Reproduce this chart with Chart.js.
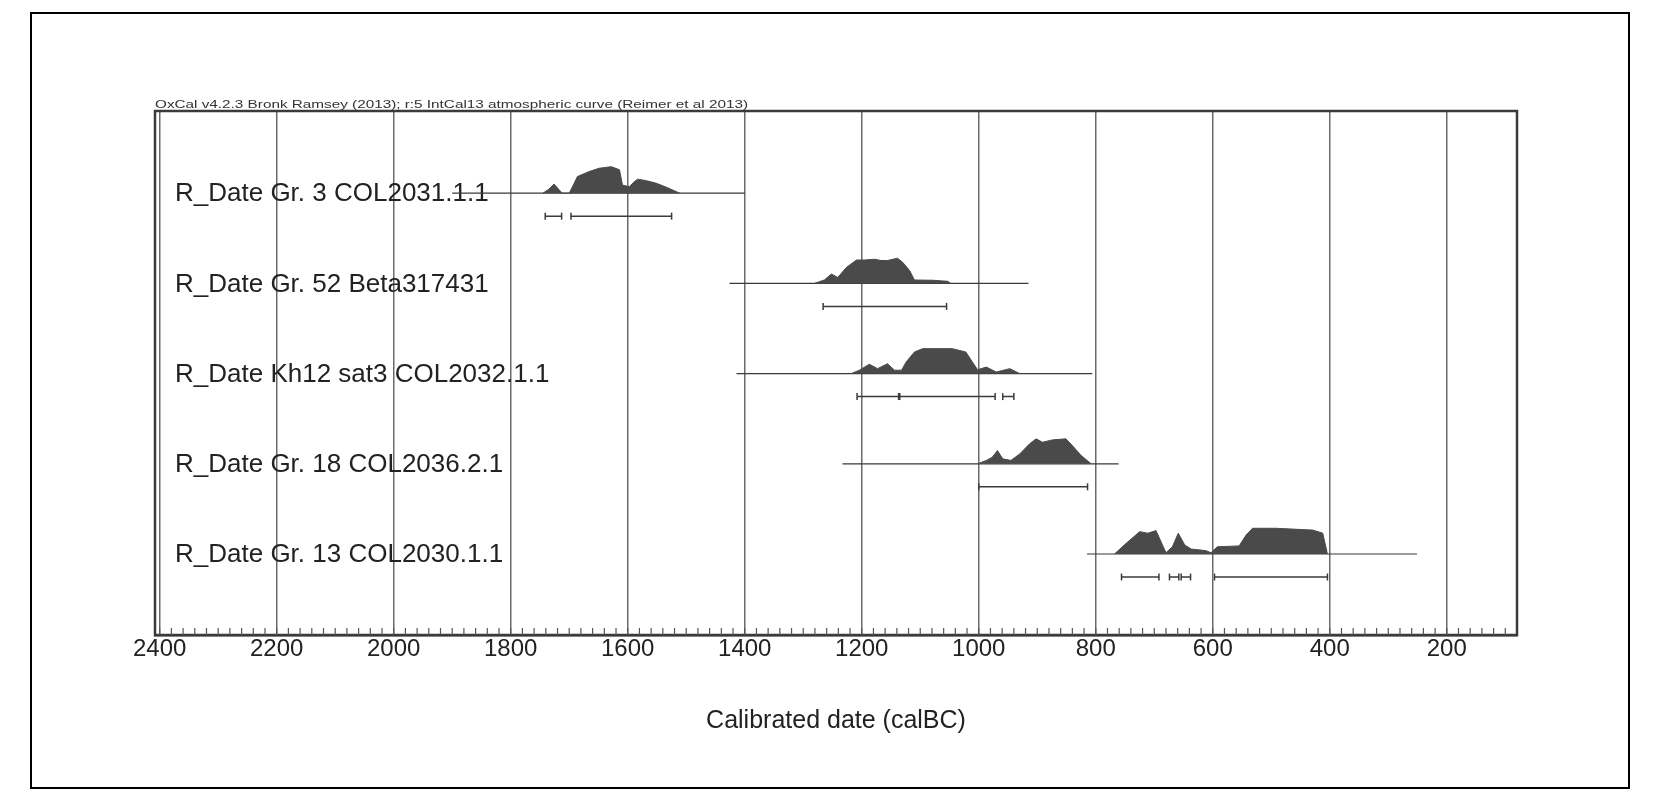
<!DOCTYPE html>
<html>
<head>
<meta charset="utf-8">
<script src="https://cdn.jsdelivr.net/npm/chart.js@4.4.1/dist/chart.umd.min.js"></script>
<style>
  html, body { margin: 0; padding: 0; background: #fff; }
  #wrap { width: 1659px; height: 799px; }
</style>
</head>
<body>
<div id="wrap"><canvas id="chart" width="1659" height="799"></canvas></div>
<script>
// sample names, top to bottom
const sampleLabels = [
  "R_Date Gr. 3 COL2031.1.1",
  "R_Date Gr. 52 Beta317431",
  "R_Date Kh12 sat3 COL2032.1.1",
  "R_Date Gr. 18 COL2036.2.1",
  "R_Date Gr. 13 COL2030.1.1"
];
const rowLevels = [5, 4, 3, 2, 1];

// calibrated probability, [year calBC, relative density]
const dist1 = [[1745,0],[1735,0.15],[1726,0.35],[1718,0.15],[1712,0],[1700,0],[1693,0.31],[1686,0.64],[1666,0.83],[1649,0.96],[1628,1.02],[1614,0.9],[1609,0.31],[1597,0.25],[1590,0.42],[1583,0.54],[1568,0.48],[1551,0.38],[1534,0.23],[1511,0]];
const dist2 = [[1281,0],[1264,0.13],[1252,0.36],[1241,0.23],[1226,0.62],[1209,0.9],[1195,0.9],[1178,0.93],[1167,0.88],[1156,0.88],[1139,0.97],[1130,0.81],[1118,0.49],[1110,0.13],[1079,0.12],[1053,0.08],[1048,0]];
const dist3 = [[1218,0],[1204,0.13],[1187,0.36],[1173,0.19],[1156,0.38],[1144,0.13],[1132,0.13],[1124,0.45],[1110,0.83],[1096,0.96],[1045,0.96],[1022,0.83],[1011,0.45],[1002,0.15],[987,0.25],[970,0.06],[947,0.19],[930,0]];
const dist4 = [[1002,0],[987,0.13],[977,0.25],[968,0.51],[959,0.19],[945,0.13],[930,0.38],[913,0.77],[902,0.96],[891,0.83],[874,0.92],[851,0.96],[840,0.7],[825,0.32],[808,0]];
const dist5 = [[768,0],[748,0.41],[725,0.86],[711,0.8],[697,0.9],[686,0.35],[680,0.05],[669,0.28],[659,0.8],[648,0.35],[637,0.19],[612,0.13],[603,0.05],[592,0.28],[555,0.31],[543,0.73],[532,0.99],[492,0.99],[429,0.92],[412,0.8],[404,0]];
const distributions = [dist1, dist2, dist3, dist4, dist5];

// plotted span of each date
const spans = [[1900,1400],[1426,915],[1414,806],[1233,761],[815,251]];

// 95.4% ranges
const ranges = [
  [[1741,1713],[1697,1525]],
  [[1266,1055]],
  [[1208,1137],[1135,972],[959,940]],
  [[1000,814]],
  [[756,692],[674,658],[654,638],[597,404]]
];

const xTicks = [2400, 2200, 2000, 1800, 1600, 1400, 1200, 1000, 800, 600, 400, 200];
const headerText = "OxCal v4.2.3 Bronk Ramsey (2013); r:5 IntCal13 atmospheric curve (Reimer et al 2013)";

const FONT = "'Liberation Sans', Arial, sans-serif";
const densityScale = 0.288;  // height of a density of 1, in row units
const rangeOffset = 0.255;   // ranges sit below the baseline

const datasets = [];
rowLevels.forEach((row, i) => {
  datasets.push({
    data: distributions[i].map(([yr, p]) => ({ x: yr, y: row + p * densityScale })),
    borderColor: "#4a4a4a",
    backgroundColor: "#4a4a4a",
    borderWidth: 1,
    pointRadius: 0,
    fill: { value: row },
    order: 1
  });
  datasets.push({
    data: spans[i].map(yr => ({ x: yr, y: row })),
    borderColor: "#3a3a3a",
    borderWidth: 1.2,
    pointRadius: 0,
    fill: false,
    order: 2
  });
  const pts = [];
  ranges[i].forEach(([a, b], k) => {
    if (k > 0) pts.push({ x: (a + ranges[i][k - 1][1]) / 2, y: null });
    pts.push({ x: a, y: row - rangeOffset }, { x: b, y: row - rangeOffset });
  });
  datasets.push({
    data: pts,
    borderColor: "#3a3a3a",
    borderWidth: 1.5,
    pointStyle: "line",
    rotation: 90,
    pointRadius: 3.5,
    pointBorderWidth: 1.5,
    pointBorderColor: "#3a3a3a",
    spanGaps: false,
    fill: false,
    order: 2
  });
});

// frame, header, labels and minor ticks
const decorPlugin = {
  id: "decor",
  beforeDatasetsDraw(chart) {
    const { ctx, scales: { y } } = chart;
    ctx.save();
    ctx.fillStyle = "#222";
    ctx.font = `26px ${FONT}`;
    ctx.textBaseline = "middle";
    ctx.textAlign = "left";
    rowLevels.forEach((row, i) => {
      ctx.fillText(sampleLabels[i], 175, y.getPixelForValue(row) + 1);
    });
    ctx.restore();
  },
  afterDraw(chart) {
    const { ctx, chartArea: a, scales: { x } } = chart;
    ctx.save();
    // outer border
    ctx.strokeStyle = "#000";
    ctx.lineWidth = 2;
    ctx.strokeRect(31, 13, 1598, 775);
    // plot frame
    ctx.strokeStyle = "#3a3a3a";
    ctx.lineWidth = 2.5;
    ctx.strokeRect(a.left, a.top, a.right - a.left, a.bottom - a.top);
    // minor ticks every 20 years, pointing up
    ctx.lineWidth = 1.2;
    ctx.strokeStyle = "#555";
    for (let yr = 2400; yr >= 100; yr -= 20) {
      const px = x.getPixelForValue(yr);
      ctx.beginPath();
      ctx.moveTo(px, a.bottom);
      ctx.lineTo(px, a.bottom - 7);
      ctx.stroke();
    }
    // header
    ctx.fillStyle = "#333";
    ctx.font = `11px ${FONT}`;
    ctx.textBaseline = "bottom";
    const w = ctx.measureText(headerText).width;
    ctx.translate(a.left, a.top - 1);
    ctx.scale(593 / w, 1);
    ctx.fillText(headerText, 0, 0);
    ctx.restore();
  }
};

new Chart(document.getElementById("chart"), {
  type: "line",
  data: { datasets },
  options: {
    responsive: false,
    animation: false,
    layout: { padding: { left: 155, right: 142, top: 111, bottom: 54 } },
    plugins: { legend: { display: false }, tooltip: { enabled: false } },
    elements: { line: { tension: 0 } },
    scales: {
      x: {
        type: "linear",
        reverse: true,
        min: 80,
        max: 2408,
        afterBuildTicks: s => { s.ticks = xTicks.map(v => ({ value: v })); },
        afterFit: s => { s.height = 110; },
        grid: { color: "#6a6a6a", lineWidth: 1.5, drawTicks: false },
        border: { display: true, color: "#3a3a3a", width: 2.5 },
        ticks: {
          autoSkip: false,
          maxRotation: 0,
          padding: 2,
          color: "#222",
          font: { family: FONT, size: 24, lineHeight: 1 },
          callback: v => String(v)
        },
        title: {
          display: true,
          text: "Calibrated date (calBC)",
          color: "#222",
          font: { family: FONT, size: 25 },
          padding: { top: 0, bottom: 8.5 }
        }
      },
      y: {
        type: "linear",
        display: false,
        min: 0.102,
        max: 5.911
      }
    }
  },
  plugins: [decorPlugin]
});
</script>
</body>
</html>
